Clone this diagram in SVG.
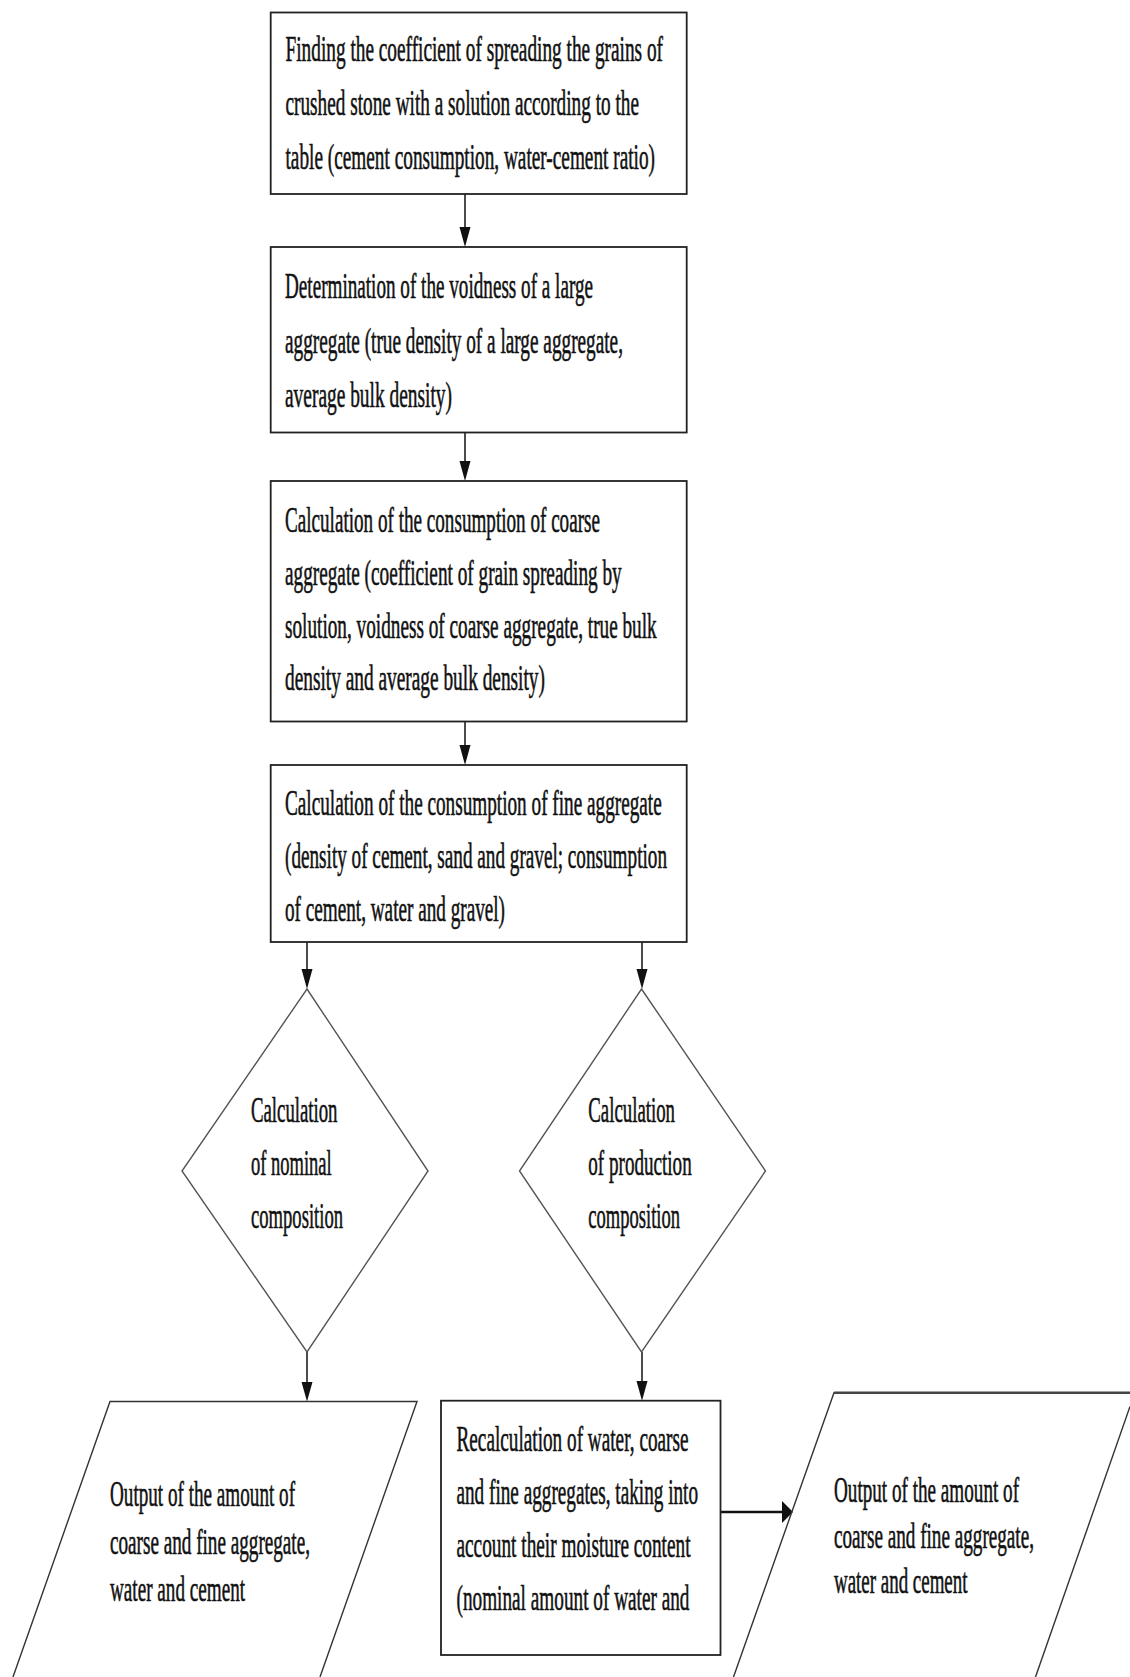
<svg xmlns="http://www.w3.org/2000/svg" width="1130" height="1677" viewBox="0 0 1130 1677">
<style>
.box{fill:#fff;stroke:#222;stroke-width:1.8}
.dia{fill:#fff;stroke:#555;stroke-width:1.4}
.par{fill:none;stroke:#333;stroke-width:1.4}
.t{font-family:"Liberation Serif","Times New Roman",serif;font-size:35px;fill:#111;stroke:#111;stroke-width:0.6}
.c{stroke:#111;stroke-width:1.5;fill:none}
.ah{fill:#111}
</style>
<rect width="1130" height="1677" fill="#fff"/>
<g id="connectors">
<line class="c" x1="465" y1="194" x2="465" y2="229"/>
<polygon class="ah" points="459.5,227 470.5,227 465,247"/>
<line class="c" x1="465" y1="432.5" x2="465" y2="463"/>
<polygon class="ah" points="459.5,461 470.5,461 465,481"/>
<line class="c" x1="465" y1="721.5" x2="465" y2="747"/>
<polygon class="ah" points="459.5,745 470.5,745 465,765"/>
<line class="c" x1="307" y1="942" x2="307" y2="971"/>
<polygon class="ah" points="301.5,969 312.5,969 307,989"/>
<line class="c" x1="642" y1="942" x2="642" y2="971"/>
<polygon class="ah" points="636.5,969 647.5,969 642,989"/>
<line class="c" x1="307" y1="1352" x2="307" y2="1384"/>
<polygon class="ah" points="301.5,1382 312.5,1382 307,1401.5"/>
<line class="c" x1="642" y1="1352" x2="642" y2="1383"/>
<polygon class="ah" points="636.5,1381 647.5,1381 642,1400.7"/>
<line class="c" style="stroke-width:2.6" x1="720.5" y1="1512" x2="784" y2="1512"/>
<polygon class="ah" points="782,1501 782,1523 793,1512"/>
</g>
<g id="n1">
<rect class="box" x="270.7" y="12.5" width="416" height="181.5"/>
<text class="t" transform="translate(285.5,61) scale(0.55,1)" textLength="686.4" lengthAdjust="spacingAndGlyphs">Finding the coefficient of spreading the grains of</text>
<text class="t" transform="translate(285.5,115) scale(0.55,1)" textLength="642.7" lengthAdjust="spacingAndGlyphs">crushed stone with a solution according to the</text>
<text class="t" transform="translate(285.5,169) scale(0.55,1)" textLength="671.8" lengthAdjust="spacingAndGlyphs">table (cement consumption, water-cement ratio)</text>
</g>
<g id="n2">
<rect class="box" x="270.7" y="247" width="416" height="185.5"/>
<text class="t" transform="translate(285,298) scale(0.55,1)" textLength="560" lengthAdjust="spacingAndGlyphs">Determination of the voidness of a large</text>
<text class="t" transform="translate(285,353) scale(0.55,1)" textLength="614.5" lengthAdjust="spacingAndGlyphs">aggregate (true density of a large aggregate,</text>
<text class="t" transform="translate(285,407) scale(0.55,1)" textLength="303.6" lengthAdjust="spacingAndGlyphs">average bulk density)</text>
</g>
<g id="n3">
<rect class="box" x="270.7" y="481" width="416" height="240.5"/>
<text class="t" transform="translate(285,532) scale(0.55,1)" textLength="572.7" lengthAdjust="spacingAndGlyphs">Calculation of the consumption of coarse</text>
<text class="t" transform="translate(285,585) scale(0.55,1)" textLength="612.2" lengthAdjust="spacingAndGlyphs">aggregate (coefficient of grain spreading by</text>
<text class="t" transform="translate(285,637.5) scale(0.55,1)" textLength="675.8" lengthAdjust="spacingAndGlyphs">solution, voidness of coarse aggregate, true bulk</text>
<text class="t" transform="translate(285,690) scale(0.55,1)" textLength="472.7" lengthAdjust="spacingAndGlyphs">density and average bulk density)</text>
</g>
<g id="n4">
<rect class="box" x="270.7" y="765" width="416" height="177"/>
<text class="t" transform="translate(285,814.5) scale(0.55,1)" textLength="684.9" lengthAdjust="spacingAndGlyphs">Calculation of the consumption of fine aggregate</text>
<text class="t" transform="translate(285,868) scale(0.55,1)" textLength="694.5" lengthAdjust="spacingAndGlyphs">(density of cement, sand and gravel; consumption</text>
<text class="t" transform="translate(285,921) scale(0.55,1)" textLength="400" lengthAdjust="spacingAndGlyphs">of cement, water and gravel)</text>
</g>
<g id="d1">
<polygon class="dia" points="307,989 428,1171 307,1352 182,1171"/>
<text class="t" transform="translate(251,1122) scale(0.55,1)" textLength="157.3" lengthAdjust="spacingAndGlyphs">Calculation</text>
<text class="t" transform="translate(251,1175) scale(0.55,1)" textLength="146.7" lengthAdjust="spacingAndGlyphs">of nominal</text>
<text class="t" transform="translate(251,1227.5) scale(0.55,1)" textLength="167.3" lengthAdjust="spacingAndGlyphs">composition</text>
</g>
<g id="d2">
<polygon class="dia" points="641.5,989 765.5,1171 641.5,1352 519.5,1171"/>
<text class="t" transform="translate(588.3,1122) scale(0.55,1)" textLength="157.6" lengthAdjust="spacingAndGlyphs">Calculation</text>
<text class="t" transform="translate(588.3,1175) scale(0.55,1)" textLength="188" lengthAdjust="spacingAndGlyphs">of production</text>
<text class="t" transform="translate(588.3,1227.5) scale(0.55,1)" textLength="166.7" lengthAdjust="spacingAndGlyphs">composition</text>
</g>
<g id="o1">
<polyline class="par" style="fill:#fff" points="13,1677 110,1401.5 417,1401.5 320,1677"/>
<text class="t" transform="translate(110,1506) scale(0.55,1)" textLength="336.4" lengthAdjust="spacingAndGlyphs">Output of the amount of</text>
<text class="t" transform="translate(110,1554) scale(0.55,1)" textLength="363.6" lengthAdjust="spacingAndGlyphs">coarse and fine aggregate,</text>
<text class="t" transform="translate(110,1601) scale(0.55,1)" textLength="245.5" lengthAdjust="spacingAndGlyphs">water and cement</text>
</g>
<g id="n5">
<rect class="box" x="441" y="1400.7" width="279.5" height="254.3"/>
<text class="t" transform="translate(456.5,1451) scale(0.55,1)" textLength="421.8" lengthAdjust="spacingAndGlyphs">Recalculation of water, coarse</text>
<text class="t" transform="translate(456.5,1504) scale(0.55,1)" textLength="439.1" lengthAdjust="spacingAndGlyphs">and fine aggregates, taking into</text>
<text class="t" transform="translate(456.5,1557) scale(0.55,1)" textLength="425.5" lengthAdjust="spacingAndGlyphs">account their moisture content</text>
<text class="t" transform="translate(456.5,1610) scale(0.55,1)" textLength="423.6" lengthAdjust="spacingAndGlyphs">(nominal amount of water and</text>
</g>
<g id="o2">
<path class="par" d="M733.5,1677 L834,1392.7 L1130,1392.7"/>
<path class="par" d="M1130,1406.5 L1035.5,1677"/>
<line x1="834" y1="1392.7" x2="1130" y2="1392.7" stroke="#444" stroke-width="2.6"/>
<text class="t" transform="translate(834,1502) scale(0.55,1)" textLength="336.4" lengthAdjust="spacingAndGlyphs">Output of the amount of</text>
<text class="t" transform="translate(834,1548) scale(0.55,1)" textLength="363.6" lengthAdjust="spacingAndGlyphs">coarse and fine aggregate,</text>
<text class="t" transform="translate(834,1593) scale(0.55,1)" textLength="242.7" lengthAdjust="spacingAndGlyphs">water and cement</text>
</g>
</svg>
